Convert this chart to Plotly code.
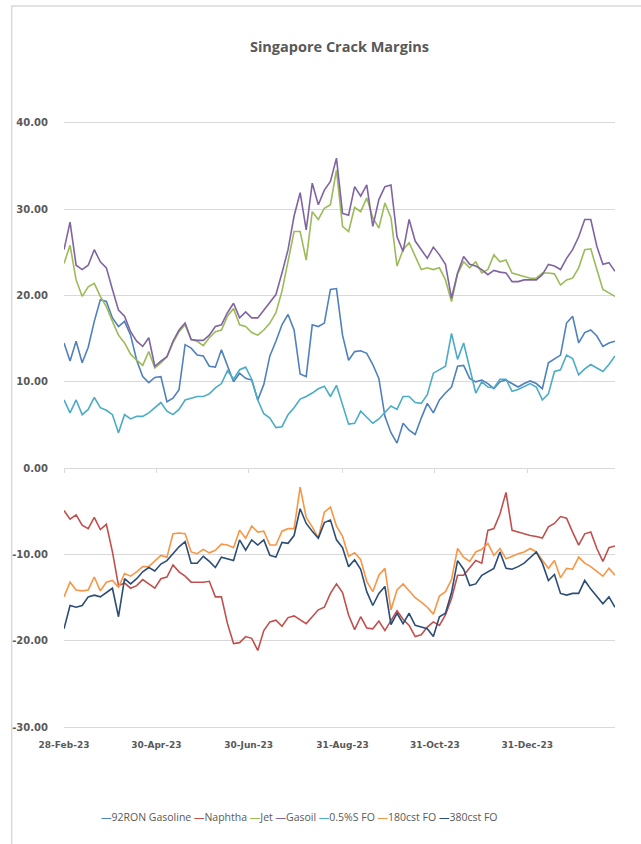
import pandas as pd
import plotly.graph_objects as go

# ---- data (sampled every 4 days, 28-Feb-23 .. 27-Feb-24) ----
dates = pd.date_range("2023-02-28", periods=92, freq="4D")

gasoline_92ron = [
    14.5, 12.4, 14.7, 12.2, 14.0, 17.0, 19.5, 19.3, 17.4, 16.4, 17.0, 15.4, 12.5, 10.6, 9.9,
    10.5, 10.6, 7.7, 8.1, 9.1, 14.3, 13.9, 13.1, 13.0, 11.8, 11.7, 13.7, 11.8, 10.0, 11.0,
    10.4, 10.2, 7.9, 9.7, 13.0, 14.7, 16.6, 17.8, 16.0, 10.9, 10.6, 16.6, 16.4, 16.8, 20.7,
    20.8, 15.4, 12.5, 13.5, 13.6, 13.3, 12.0, 10.4, 6.0, 4.1, 2.9, 5.2, 4.4, 3.9, 5.8,
    7.5, 6.4, 7.9, 8.7, 9.4, 11.8, 11.9, 10.4, 10.0, 10.2, 9.8, 9.2, 10.0, 10.2, 9.8,
    9.4, 9.8, 10.1, 9.8, 9.2, 12.2, 12.6, 13.1, 16.8, 17.6, 14.5, 15.7, 16.0, 15.3, 14.1,
    14.5, 14.7,
]
naphtha = [
    -4.9, -5.9, -5.4, -6.6, -7.0, -5.7, -7.1, -6.5, -9.7, -13.6, -13.3, -13.9, -13.6, -12.9, -13.4,
    -13.9, -12.8, -12.6, -11.2, -12.0, -12.5, -13.2, -13.2, -13.2, -13.1, -14.9, -14.9, -18.0, -20.3, -20.2,
    -19.5, -19.7, -21.1, -18.8, -17.8, -17.6, -18.3, -17.3, -17.1, -17.5, -18.0, -17.2, -16.4, -16.1, -14.5,
    -13.4, -14.4, -17.0, -18.7, -17.2, -18.5, -18.6, -17.7, -18.8, -17.6, -16.5, -17.5, -18.2, -19.5, -19.3,
    -18.4, -17.8, -18.2, -17.0, -15.1, -12.4, -12.4, -11.5, -10.7, -11.0, -7.2, -7.0, -5.3, -2.8, -7.2,
    -7.4, -7.6, -7.8, -7.9, -8.1, -6.8, -6.4, -5.6, -5.8, -7.4, -8.9, -7.6, -7.4, -9.3, -10.8,
    -9.2, -9.0,
]
jet = [
    23.7, 25.8, 21.8, 19.9, 21.0, 21.4, 19.9, 18.7, 17.0, 15.4, 14.5, 13.2, 12.5, 11.9, 13.5,
    11.6, 12.2, 12.9, 14.5, 15.8, 16.6, 14.9, 14.7, 14.2, 15.1, 15.8, 16.0, 17.6, 18.5, 16.6,
    16.4, 15.7, 15.4, 16.0, 16.8, 18.0, 20.5, 24.1, 27.4, 27.4, 24.1, 29.7, 28.8, 30.1, 30.5,
    34.5, 28.0, 27.4, 30.2, 29.7, 31.3, 29.0, 27.8, 30.7, 29.0, 23.4, 25.3, 26.1, 24.5, 23.0,
    23.2, 23.0, 23.2, 21.8, 19.3, 22.5, 23.9, 23.2, 23.9, 22.6, 23.0, 24.7, 23.9, 24.1, 22.6,
    22.4, 22.2, 22.0, 22.0, 22.6, 22.6, 22.5, 21.2, 21.8, 22.0, 23.2, 25.3, 25.4, 23.0, 20.7,
    20.3, 19.9,
]
gasoil = [
    25.3, 28.5, 23.5, 23.0, 23.5, 25.3, 23.9, 23.2, 20.7, 18.3, 17.6, 15.8, 14.7, 14.1, 15.1,
    11.8, 12.4, 12.9, 14.7, 16.0, 16.8, 14.9, 14.8, 14.8, 15.4, 16.4, 16.6, 18.0, 19.1, 17.4,
    18.1, 17.4, 17.4, 18.3, 19.3, 20.1, 22.6, 25.3, 29.2, 31.9, 27.6, 33.0, 30.5, 32.2, 33.2,
    35.9, 29.5, 29.3, 32.6, 31.5, 32.8, 28.0, 31.1, 32.6, 32.8, 26.8, 25.1, 28.8, 26.3, 25.3,
    24.3, 25.6, 24.7, 23.6, 19.7, 22.6, 24.5, 23.6, 23.4, 23.0, 22.4, 22.9, 22.7, 22.6, 21.6,
    21.6, 21.8, 21.8, 21.8, 22.4, 23.6, 23.4, 23.0, 24.3, 25.3, 26.8, 28.8, 28.8, 25.7, 23.6,
    23.8, 22.8,
]
fo_05s = [
    7.9, 6.4, 7.9, 6.2, 6.8, 8.2, 7.0, 6.7, 6.2, 4.1, 6.2, 5.7, 6.0, 6.0, 6.4,
    7.0, 7.6, 6.6, 6.2, 6.8, 7.9, 8.1, 8.3, 8.3, 8.6, 9.3, 9.8, 11.3, 10.3, 11.4,
    11.7, 10.3, 7.9, 6.3, 5.8, 4.7, 4.8, 6.2, 7.0, 8.0, 8.3, 8.7, 9.2, 9.5, 8.3,
    9.6, 7.4, 5.1, 5.2, 6.6, 5.9, 5.2, 5.7, 6.4, 7.2, 6.8, 8.3, 8.3, 7.6, 7.5,
    8.5, 11.0, 11.4, 11.8, 15.6, 12.6, 14.5, 11.6, 8.7, 10.0, 9.4, 9.3, 10.3, 10.3, 8.9,
    9.1, 9.5, 9.8, 9.4, 7.9, 8.6, 11.2, 11.4, 13.1, 12.7, 10.8, 11.5, 12.0, 11.6, 11.2,
    12.0, 13.0,
]
fo_180cst = [
    -14.9, -13.2, -14.1, -14.2, -14.1, -12.6, -14.2, -13.2, -13.0, -13.8, -12.2, -12.5, -12.0, -11.4, -11.4,
    -10.7, -10.1, -10.3, -7.6, -7.5, -7.6, -9.7, -9.9, -9.4, -9.8, -9.5, -8.8, -8.9, -9.2, -7.2,
    -8.1, -6.7, -7.4, -7.3, -8.9, -8.9, -7.3, -7.0, -7.0, -2.2, -5.7, -6.8, -8.1, -5.1, -4.5,
    -6.7, -7.9, -10.2, -9.8, -10.6, -13.1, -14.3, -12.4, -11.6, -16.4, -14.1, -13.4, -14.2, -15.0, -15.5,
    -16.1, -16.9, -14.8, -14.3, -12.9, -9.3, -10.3, -10.8, -9.7, -9.4, -8.7, -10.1, -9.3, -10.5, -10.2,
    -9.9, -9.7, -9.3, -9.7, -10.7, -11.6, -10.7, -12.7, -11.6, -11.7, -10.3, -11.0, -11.4, -12.0, -12.5,
    -11.6, -12.4,
]
fo_380cst = [
    -18.6, -15.9, -16.1, -15.9, -14.9, -14.7, -14.9, -14.4, -13.9, -17.2, -12.8, -13.4, -12.8, -12.0, -11.5,
    -11.9, -11.1, -10.7, -9.9, -9.1, -8.5, -11.0, -11.0, -10.2, -10.8, -11.5, -10.3, -10.5, -10.7, -8.3,
    -9.5, -8.3, -8.9, -8.3, -10.1, -10.3, -8.6, -8.7, -7.8, -4.7, -6.4, -7.3, -8.1, -6.3, -6.0,
    -8.3, -9.2, -11.4, -10.6, -11.7, -14.3, -15.9, -14.5, -13.7, -18.1, -16.8, -18.0, -16.8, -18.2, -18.4,
    -18.6, -19.5, -17.2, -16.8, -14.4, -10.7, -11.7, -13.6, -13.4, -12.4, -12.0, -11.6, -9.7, -11.6, -11.7,
    -11.4, -11.0, -10.3, -9.7, -11.0, -13.0, -12.3, -14.5, -14.7, -14.5, -14.5, -13.0, -14.0, -14.9, -15.7,
    -14.9, -16.1,
]

series_names = ["92RON Gasoline", "Naphtha", "Jet", "Gasoil", "0.5%S FO", "180cst FO", "380cst FO"]
series_values = [gasoline_92ron, naphtha, jet, gasoil, fo_05s, fo_180cst, fo_380cst]
series_colors = ["#4F81BD", "#C0504D", "#9BBB59", "#8064A2", "#4BACC6", "#F79646", "#2C4D75"]

y_tick_vals = [40, 30, 20, 10, 0, -10, -20, -30]
y_tick_text = ["40.00", "30.00", "20.00", "10.00", "0.00", "-10.00", "-20.00", "-30.00"]
x_tick_vals = ["2023-02-28", "2023-04-30", "2023-06-30", "2023-08-31", "2023-10-31", "2023-12-31"]
x_tick_text = ["28-Feb-23", "30-Apr-23", "30-Jun-23", "31-Aug-23", "31-Oct-23", "31-Dec-23"]
x_range = ["2023-02-28", "2024-02-27"]
y_range = [-30.2, 40.2]

TXT = "#595959"
GRID = "#D9D9D9"

W, H = 641, 844
ML, MR, MT, MB = 57, 26, 121, 115
PW, PH = W - ML - MR, H - MT - MB

fig = go.Figure()
for name, vals, col in zip(series_names, series_values, series_colors):
    fig.add_trace(go.Scatter(x=dates, y=vals, name=name, mode="lines",
                             line=dict(color=col, width=1.6), showlegend=False))

# helper axis at the zero line carrying the small tick marks
fig.add_trace(go.Scatter(x=[dates[0]], y=[None], xaxis="x2", showlegend=False,
                         hoverinfo="skip", mode="lines"))

legend_text = " ".join(
    f"<span style='color:{c}'>—</span>{n}" for n, c in zip(series_names, series_colors)
)

zero_pos = (0 - y_range[0]) / (y_range[1] - y_range[0])

fig.update_layout(
    width=W, height=H,
    margin=dict(l=ML, r=MR, t=MT, b=MB),
    paper_bgcolor="white", plot_bgcolor="white",
    title=dict(text="<b>Singapore Crack Margins</b>", x=0.5, xref="paper", xanchor="center",
               y=1 - 47 / H, yref="container", yanchor="middle",
               font=dict(family="Open Sans", size=14.5, color=TXT)),
    xaxis=dict(type="date", range=x_range, tickvals=x_tick_vals, ticktext=x_tick_text,
               showgrid=False, zeroline=False, showline=False, ticks="",
               ticklabelstandoff=9,
               tickfont=dict(family="DejaVu Sans", size=9, color=TXT, weight="bold")),
    xaxis2=dict(type="date", range=x_range, overlaying="x", anchor="free",
                position=zero_pos, tickvals=x_tick_vals, showticklabels=False,
                ticks="outside", ticklen=4, tickcolor=GRID, showgrid=False,
                showline=False, zeroline=False),
    yaxis=dict(range=y_range, tickvals=y_tick_vals, ticktext=y_tick_text,
               showgrid=True, gridcolor=GRID, gridwidth=1, zeroline=False,
               showline=False, ticks="outside", ticklen=13, tickcolor="rgba(0,0,0,0)",
               ticklabelstandoff=0,
               tickfont=dict(family="DejaVu Sans", size=10, color=TXT, weight="bold")),
    annotations=[dict(text=legend_text, x=(92 - ML) / PW, y=-(817 - (MT + PH)) / PH,
                      xref="paper", yref="paper", xanchor="left", yanchor="middle",
                      showarrow=False, font=dict(family="Open Sans", size=10.5, color=TXT))],
    shapes=[dict(type="rect", xref="paper", yref="paper",
                 x0=(4 - ML) / PW, x1=1.3, y0=-0.5, y1=1 + (MT - 6) / PH,
                 line=dict(color=GRID, width=1.5), fillcolor="rgba(0,0,0,0)", layer="below")],
)

fig.write_html("out.html", config={"displayModeBar": False},
               post_script="document.body.style.margin='0';")
